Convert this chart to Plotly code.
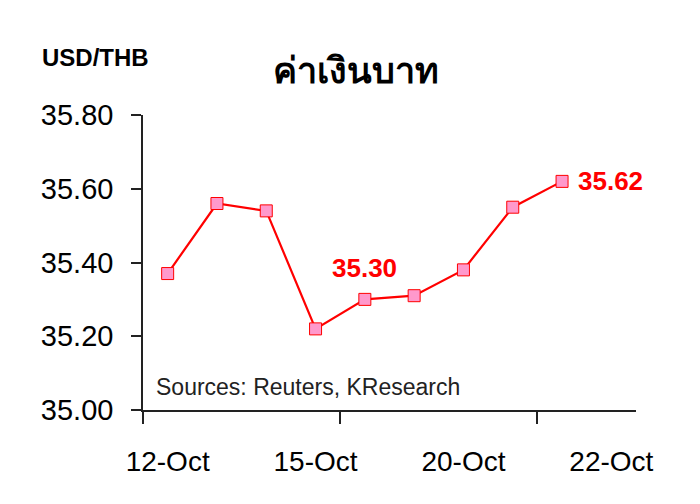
import plotly.graph_objs as go

# USD/THB daily rates (Oct)
dates = ['12-Oct', '13-Oct', '14-Oct', '15-Oct', '16-Oct', '19-Oct', '20-Oct', '21-Oct', '22-Oct']
rates = [35.37, 35.56, 35.54, 35.22, 35.30, 35.31, 35.38, 35.55, 35.62]

tick_pos = [0, 3, 6, 9]
tick_text = ['12-Oct', '15-Oct', '20-Oct', '22-Oct']
yticks = [35.00, 35.20, 35.40, 35.60, 35.80]

FONT = 'Arial, Liberation Sans, sans-serif'
RED = '#FF0000'

x_idx = list(range(len(dates)))

trace = go.Scatter(
    x=x_idx,
    y=rates,
    text=dates,
    mode='lines+markers',
    line=dict(color=RED, width=2.2),
    marker=dict(symbol='square', size=12, color='#FF99CC',
                line=dict(color=RED, width=1)),
    hovertemplate='%{text}: %{y:.2f}<extra></extra>',
    showlegend=False,
)

# page has an 8px body margin, so offsets are shifted by it
layout = dict(
    width=700, height=504,
    paper_bgcolor='white', plot_bgcolor='white',
    margin=dict(l=135, r=72, t=107, b=102),
    font=dict(family=FONT, color='black'),
    title=dict(text='<b>ค่าเงินบาท</b>', x=(356 - 8) / 700, xanchor='center',
               y=1 - (70 - 8) / 504, yanchor='middle',
               font=dict(size=36, color='black')),
    xaxis=dict(range=[-0.5, 9.5], showgrid=False, zeroline=False,
               showline=True, linecolor='#222222', linewidth=1.5,
               tickmode='array', tickvals=tick_pos, ticktext=tick_text,
               ticks='outside', ticklen=0, tickcolor='#222222',
               ticklabelstandoff=26,
               tickfont=dict(size=28, color='black'),
               minor=dict(tickmode='array', tickvals=[-0.5, 3.5, 7.5],
                          ticks='outside', ticklen=12, tickwidth=1.5,
                          tickcolor='#222222', showgrid=False)),
    yaxis=dict(range=[35.0, 35.8], showgrid=False, zeroline=False,
               showline=True, linecolor='#222222', linewidth=1.5,
               tickmode='array', tickvals=yticks, tickformat='.2f',
               ticks='outside', ticklen=10, tickwidth=1.5, tickcolor='#222222',
               ticklabelstandoff=12,
               tickfont=dict(size=29, color='black')),
    annotations=[
        dict(text='<b>USD/THB</b>', xref='paper', yref='paper',
             x=(40 - 143) / 493, y=(410 - 57) / 295,
             xanchor='left', yanchor='middle', showarrow=False,
             font=dict(size=24, color='black')),
        dict(text='Sources: Reuters, KResearch', xref='paper', yref='paper',
             x=0, xshift=11, y=(410 - 387) / 295,
             xanchor='left', yanchor='middle', showarrow=False,
             font=dict(size=23, color='#222222')),
        dict(text='<b>%.2f</b>' % rates[4], x=x_idx[4], y=rates[4],
             xanchor='center', yanchor='middle', yshift=31, showarrow=False,
             font=dict(size=26, color=RED)),
        dict(text='<b>%.2f</b>' % rates[-1], x=x_idx[-1], y=rates[-1],
             xanchor='left', yanchor='middle', xshift=14, showarrow=False,
             font=dict(size=26, color=RED)),
    ],
)

fig = go.Figure(data=[trace], layout=layout)
fig.write_html('out.html')
